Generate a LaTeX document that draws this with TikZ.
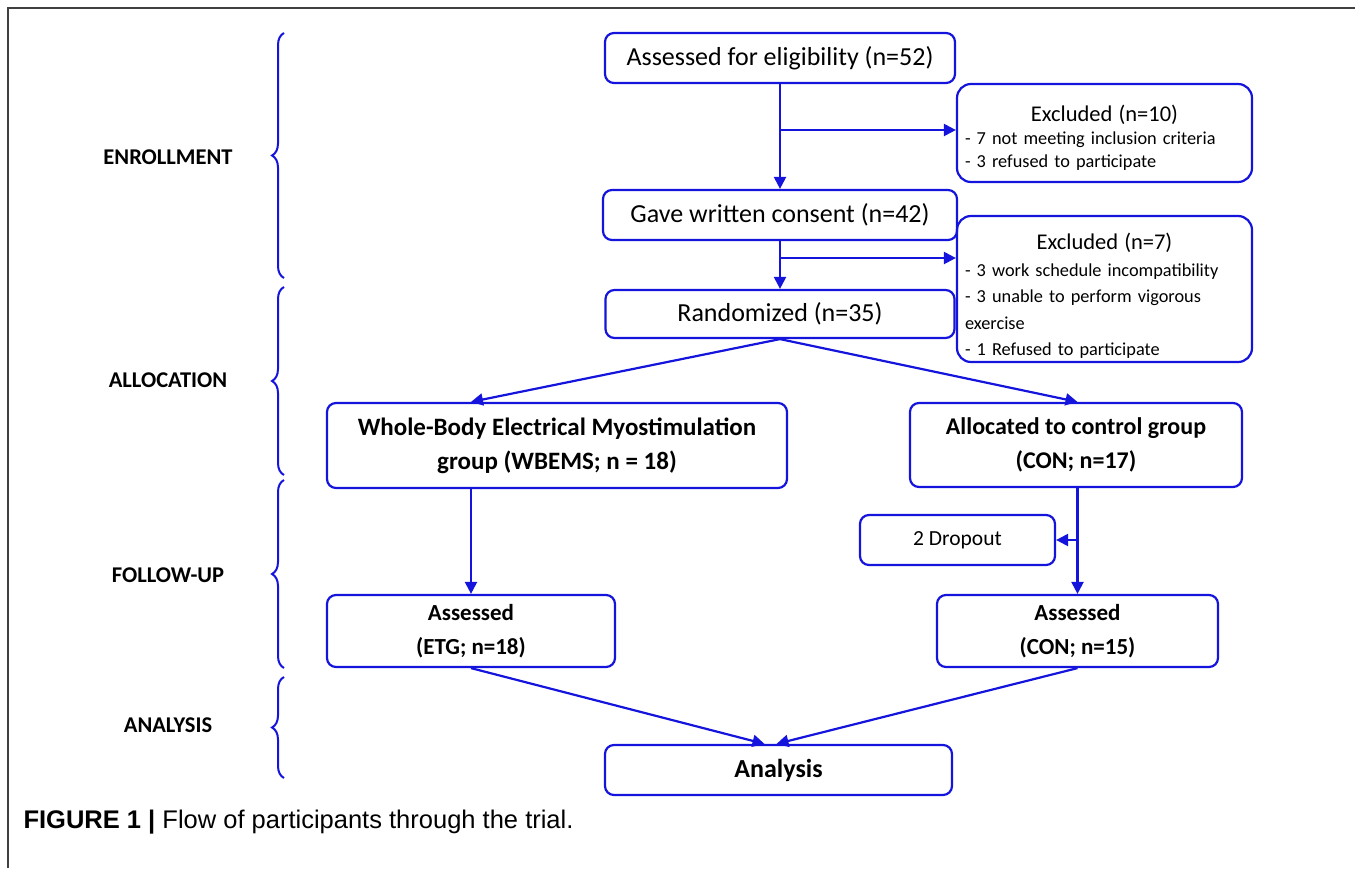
\documentclass[tikz,border=0pt]{standalone}
\usepackage{fontspec}
\setmainfont{Carlito}
\newfontfamily\capfont{Liberation Sans}
\usetikzlibrary{arrows.meta, positioning, decorations.pathreplacing}
\definecolor{flowblue}{RGB}{20,20,220}

\begin{document}
\begin{tikzpicture}[x=1pt, y=-1pt, font=\fontsize{26}{30}\selectfont]
	\tikzstyle{box} = [draw=flowblue, line width=2.2pt, rounded corners=9pt, align=center, inner sep=0pt]
	\tikzstyle{boxb} = [box, font=\fontsize{25}{34}\selectfont\bfseries]
	\tikzstyle{excl} = [box, rounded corners=14pt, align=left, text width=279pt, inner xsep=8pt, font=\fontsize{18.3}{23}\selectfont]
	\tikzstyle{arrow} = [draw=flowblue, line width=2.2pt, -{Triangle[length=12pt,width=12pt]}]
	\tikzstyle{stage} = [font=\fontsize{22.5}{26}\selectfont\bfseries]
	\tikzstyle{phase} = [draw=flowblue, line width=2pt, decorate, decoration={brace, amplitude=12pt}]
	
	\useasboundingbox (0,0) rectangle (1355,868);
	\draw[line width=1.2pt, black!75] (8,868) -- (8,8) -- (1355,8);
	
	\node[box, minimum width=350pt, minimum height=50pt]	at (780,58)		(q0)	{Assessed for eligibility (n=52)};
	\node[box, minimum width=354pt, minimum height=50pt]	at (780,215)	(q2)	{Gave written consent (n=42)};
	\node[box, minimum width=349pt, minimum height=48pt]	at (780,314)	(q4)	{Randomized (n=35)};
	
	\node[excl, minimum height=98pt]	at (1104.5,133)	(q1)	{{\centering\fontsize{22.5}{28}\selectfont\rule{0pt}{26pt}Excluded (n=10)\par}
		- 7 not meeting inclusion criteria\\ - 3 refused to participate};
	\node[excl, minimum height=146pt, font=\fontsize{18.3}{26.5}\selectfont]	at (1104.5,289)	(q3)	{{\centering\fontsize{22.5}{32}\selectfont\rule{0pt}{30pt}Excluded (n=7)\par}
		- 3 work schedule incompatibility\\ \makebox[\linewidth][s]{- 3 unable to perform vigorous}\\ exercise\\ - 1 Refused to participate};
	
	\node[boxb, minimum width=460pt, minimum height=85pt]	at (557,445.5)	(q5)	{Whole-Body Electrical Myostimulation\\ group (WBEMS; n = 18)};
	\node[boxb, minimum width=332pt, minimum height=84pt, font=\fontsize{24}{34}\selectfont\bfseries]	at (1076,445)	(q6)	{Allocated to control group\\ (CON; n=17)};
	\node[box, minimum width=195pt, minimum height=50pt, font=\fontsize{21.5}{26}\selectfont]	at (957.5,540)	(q7)	{2 Dropout};
	
	\node[boxb, minimum width=288pt, minimum height=72pt, font=\fontsize{23}{34}\selectfont\bfseries]	at (471,631)	(q8)	{Assessed\\ (ETG; n=18)};
	\node[boxb, minimum width=281pt, minimum height=72pt, font=\fontsize{23}{34}\selectfont\bfseries]	at (1077.5,631)	(q9)	{Assessed\\ (CON; n=15)};
	\node[boxb, minimum width=347pt, minimum height=50pt, font=\fontsize{26}{30}\selectfont\bfseries]	at (778.5,770)	(q10)	{Analysis};
	
	\node[stage]	at (168,157)	(p0)	{ENROLLMENT};
	\node[stage]	at (168,380)	(p1)	{ALLOCATION};
	\node[stage]	at (168,575)	(p2)	{FOLLOW-UP};
	\node[stage]	at (168,725)	(p3)	{ANALYSIS};
	
	\draw[phase] (284,278) -- (284,33);
	\draw[phase] (284,475) -- (284,287);
	\draw[phase] (284,668) -- (284,480);
	\draw[phase] (284,778) -- (284,677);
	
	\coordinate (j0) at (780,130);
	\coordinate (j1) at (780,258);
	\coordinate (j2) at (q9 |- q7);
	
	\draw[arrow] (q0) -- (q2);
	\draw[arrow] (q2) -- (q4);
	\draw[arrow] (j0) -- (j0 -| q1.west);
	\draw[arrow] (j1) -- (j1 -| q3.west);
	
	\draw[arrow] (q4.south) -- (q5.north -| q8.north);
	\draw[arrow] (q4.south) -- (q6.north -| q9.north);
	
	\draw[arrow] (q5.south -| q8.north) -- (q8.north);
	\draw[arrow] (q6.south -| q9.north) -- (q9.north);
	\draw[arrow] (j2) -- (q7.east);
	
	\draw[arrow] (q8.south) -- ([xshift=-14pt]q10.north);
	\draw[arrow] (q9.south) -- ([xshift=-2pt]q10.north);
	
	\node[anchor=west, font=\capfont\fontsize{25.5}{30}\selectfont]	at (20,822)	(cap)	{\textbf{FIGURE 1 |} Flow of participants through the trial.};
	
\end{tikzpicture}
\end{document}
